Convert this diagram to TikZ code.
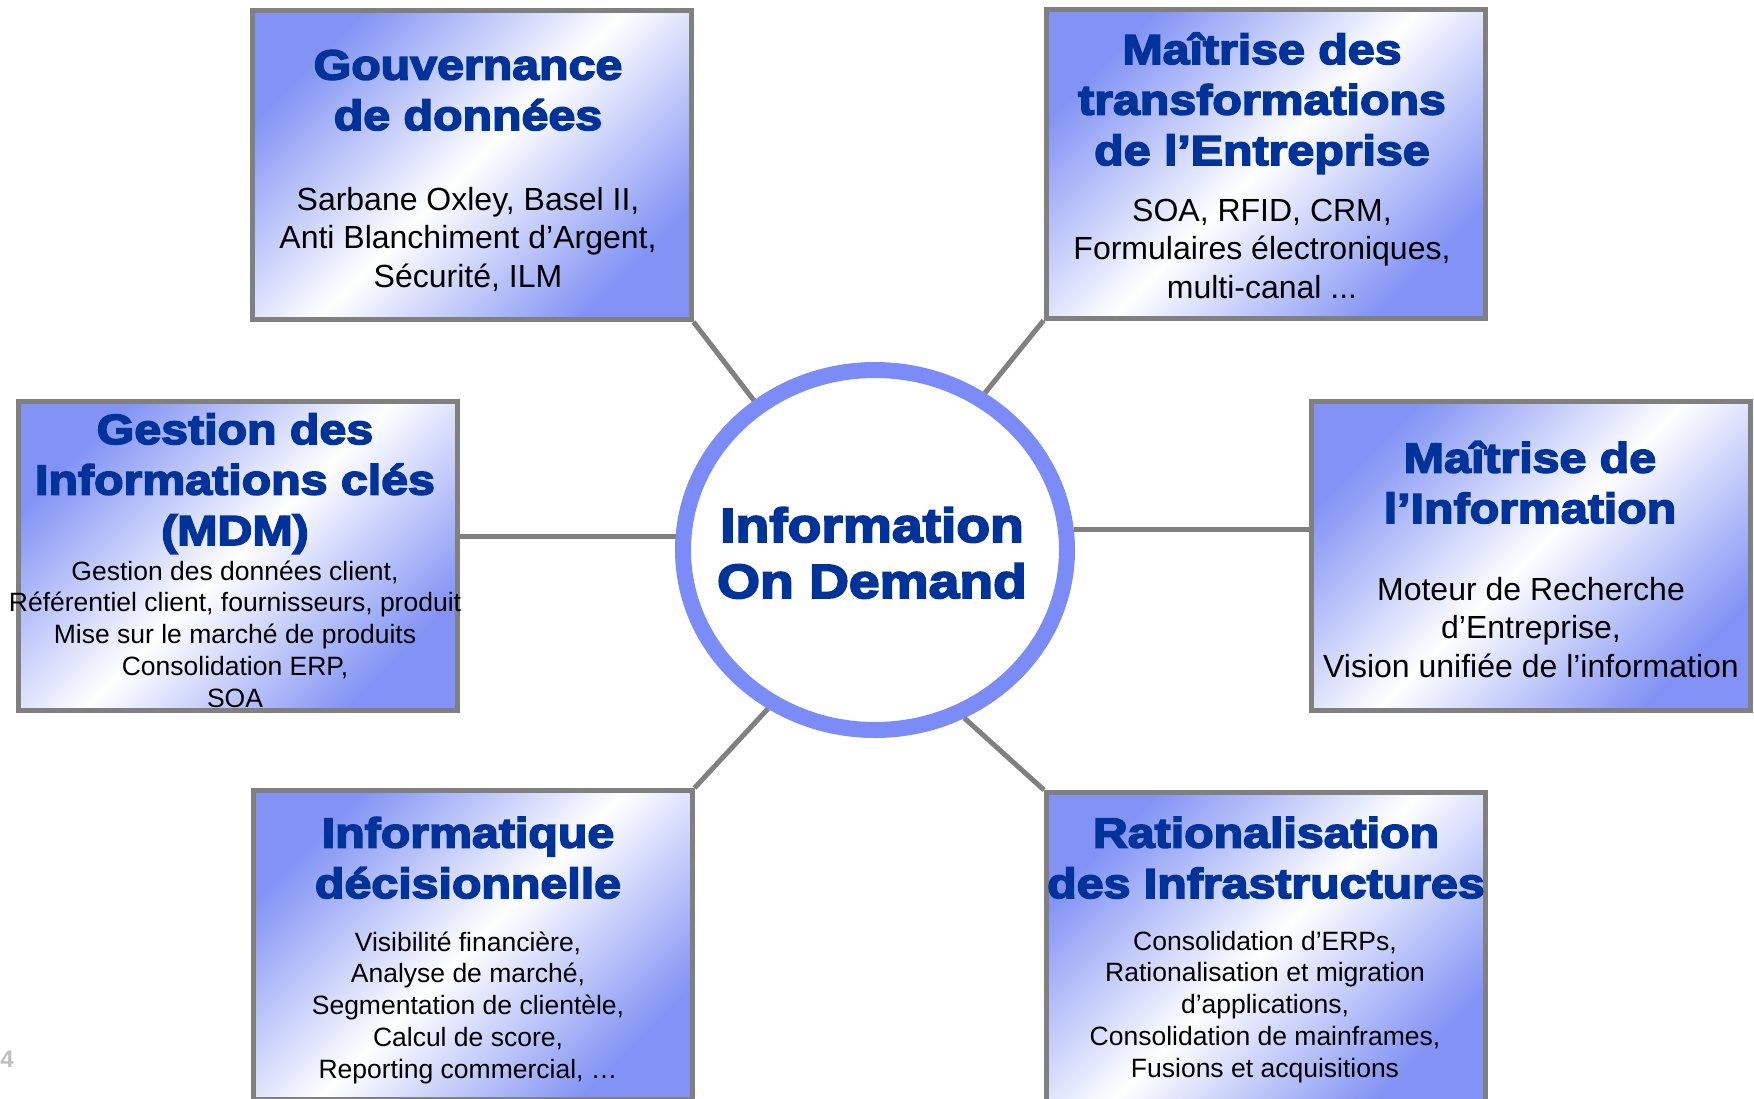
\documentclass[tikz,border=0pt]{standalone}
\usepackage{fontspec}
\setmainfont{Liberation Sans}
\newfontfamily\heavyfont{Liberation Sans}[FakeStretch=1.15, BoldFeatures={FakeBold=4}]
\usetikzlibrary{shapes.geometric}
\definecolor{titreblue}{HTML}{003399}
\definecolor{boxblue}{HTML}{8293F5}
\definecolor{ringblue}{HTML}{7B8CF8}
\definecolor{linegray}{HTML}{808080}

\begin{document}
\begin{tikzpicture}[x=1pt, y=-1pt,
	tema/.style={draw=linegray, line width=5pt, minimum width=439pt, minimum height=309pt, inner sep=0pt,
		top color=boxblue, bottom color=boxblue, middle color=white, shading angle=45},
	titre/.style={anchor=base, align=center, inner sep=0pt, text=titreblue,
		font=\heavyfont\bfseries\fontsize{42}{50.5}\selectfont},
	texte/.style={anchor=base, align=center, inner sep=0pt, font=\fontsize{32}{38.5}\selectfont},
	petit/.style={texte, font=\fontsize{26.5}{31.7}\selectfont},
	noyau/.style={ellipse, draw=ringblue, line width=16pt, fill=white, minimum width=384pt,
		minimum height=360pt, inner sep=0pt, outer sep=8pt},
	lien/.style={draw=linegray, line width=5pt}]
	\useasboundingbox (0,0) rectangle (1754,1098);
	\clip (0,0) rectangle (1754,1098);

	%Les cadres
	\node[tema] (gouv) at (471.5,165) {};
	\node[tema] (transf) at (1265.5,163.5) {};
	\node[tema] (mdm) at (237.5,556) {};
	\node[tema] (maitrise) at (1530.5,556) {};
	\node[tema] (decis) at (472.5,945) {};
	\node[tema] (ration) at (1266,947) {};

	%Le centre
	\node[noyau] (iod) at (875,550) {};
	\node[titre, font=\heavyfont\bfseries\fontsize{48}{56}\selectfont] (iodT) at (872,598) {Information\\On Demand};

	%Les liens
	\draw[lien] (gouv.south east) -- (iod.129);
	\draw[lien] (transf.south west) -- (iod.55.4);
	\draw[lien] (iod.176.6 -| mdm.east) -- (iod.176.6);
	\draw[lien] (iod.6.3) -- (iod.6.3 -| maitrise.west);
	\draw[lien] (decis.north east) -- (iod.236.6);
	\draw[lien] (ration.north west) -- (iod.298.6);

	%Les textes (ancre sur la derniere ligne)
	\node[titre] (gouvT) at (468,130) {Gouvernance\\de données};
	\node[texte] (gouvB) at (468,287) {Sarbane Oxley, Basel II,\\Anti Blanchiment d’Argent,\\Sécurité, ILM};

	\node[titre] (transfT) at (1262,165) {Maîtrise des\\transformations\\de l’Entreprise};
	\node[texte] (transfB) at (1262,298) {SOA, RFID, CRM,\\Formulaires électroniques,\\multi-canal ...};

	\node[titre] (mdmT) at (235,545) {Gestion des\\Informations clés\\(MDM)};
	\node[petit] (mdmB) at (235,707) {Gestion des données client,\\Référentiel client, fournisseurs, produit\\Mise sur le marché de produits\\Consolidation ERP,\\SOA};

	\node[titre] (maitriseT) at (1530,523) {Maîtrise de\\l’Information};
	\node[texte] (maitriseB) at (1531,677) {Moteur de Recherche\\d’Entreprise,\\Vision unifiée de l’information};

	\node[titre] (decisT) at (468,898) {Informatique\\décisionnelle};
	\node[petit] (decisB) at (468,1078) {Visibilité financière,\\Analyse de marché,\\Segmentation de clientèle,\\Calcul de score,\\Reporting commercial, …};

	\node[titre] (rationT) at (1266,898) {Rationalisation\\des Infrastructures};
	\node[petit] (rationB) at (1265,1077) {Consolidation d’ERPs,\\Rationalisation et migration\\d’applications,\\Consolidation de mainframes,\\Fusions et acquisitions};

	\node[anchor=base, inner sep=0pt, text=black!25, font=\bfseries\fontsize{24}{24}\selectfont] (page) at (7,1067) {4};
\end{tikzpicture}
\end{document}
